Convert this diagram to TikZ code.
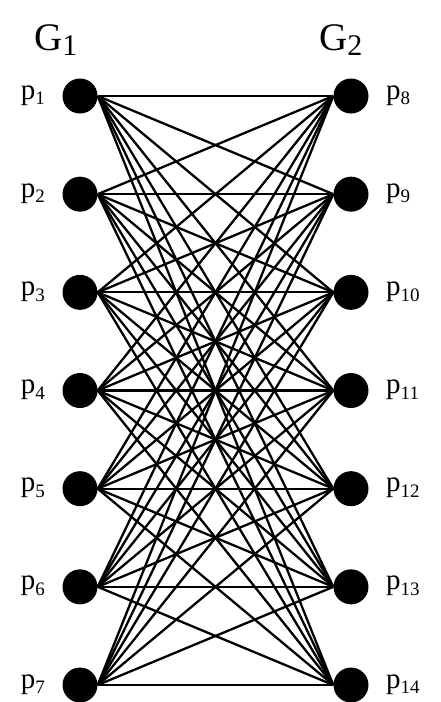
\documentclass[tikz,border=0pt]{standalone}
\usepackage{fontspec}
\setmainfont{Liberation Serif}
\newcommand{\plab}[1]{{\fontsize{29}{29}\selectfont p\raisebox{-0.2em}{\fontsize{19}{19}\selectfont #1}}}
\newcommand{\glab}[1]{{\fontsize{39}{39}\selectfont G\raisebox{-0.15em}{\fontsize{30}{30}\selectfont #1}}}
\begin{document}
\begin{tikzpicture}[x=1pt, y=-1pt,
    vertex/.style={circle, fill=black, inner sep=0pt, minimum size=35pt},
    link/.style={line width=2.3pt}]
    \useasboundingbox (0,0) rectangle (441,702);

    % Group titles
    \node[anchor=base west, inner sep=0pt] (g1) at (34,50) {\glab{1}};
    \node[anchor=base west, inner sep=0pt] (g2) at (319,50) {\glab{2}};

    % Vertices of both groups with their labels
    \foreach \i in {1,...,7} {
        \pgfmathsetmacro\yy{96+98.17*(\i-1)}
        \pgfmathtruncatemacro\j{\i+7}
        \node[vertex] (l\i) at (80,\yy) {};
        \node[vertex] (r\i) at (351,\yy) {};
        \node[anchor=base east, inner sep=0pt] (pl\i) at (45,\yy+3) {\plab{\i}};
        \node[anchor=base west, inner sep=0pt] (pr\i) at (386,\yy+3) {\plab{\j}};
    }

    % Every vertex of G1 joined to every vertex of G2
    \foreach \i in {1,...,7} {
        \foreach \k in {1,...,7} {
            \draw[link] (l\i.east) -- (r\k.west);
        }
    }
\end{tikzpicture}
\end{document}
